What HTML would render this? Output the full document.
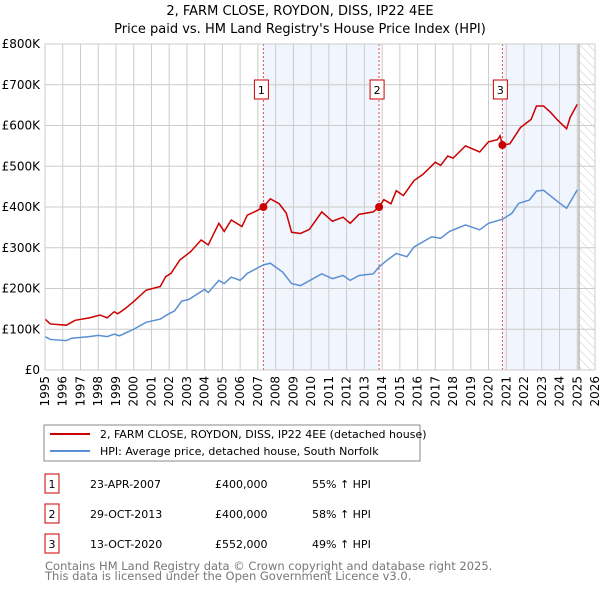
<!DOCTYPE html>
<html><head><meta charset="utf-8"><style>
body{margin:0;background:#fff;font-family:"DejaVu Sans","Liberation Sans",sans-serif;}
svg text{font-family:"DejaVu Sans","Liberation Sans",sans-serif;}
</style></head><body>
<svg id="c" width="600" height="590" xmlns="http://www.w3.org/2000/svg">
<defs><pattern id="hatch" width="6" height="6" patternUnits="userSpaceOnUse" patternTransform="rotate(-45)"><line x1="0" y1="0" x2="0" y2="6" stroke="#ccc" stroke-width="1"/></pattern></defs>
<text x="300" y="15" text-anchor="middle" font-size="13">2, FARM CLOSE, ROYDON, DISS, IP22 4EE</text>
<text x="300" y="33" text-anchor="middle" font-size="13">Price paid vs. HM Land Registry's House Price Index (HPI)</text>
<g id="plot"></g>
<rect x="44" y="425" width="376" height="36" fill="#fff" stroke="#888"/>
<line x1="50" y1="434" x2="90" y2="434" stroke="#cc0000" stroke-width="2"/>
<text x="100" y="438" font-size="11">2, FARM CLOSE, ROYDON, DISS, IP22 4EE (detached house)</text>
<line x1="50" y1="451" x2="90" y2="451" stroke="#5b8fd4" stroke-width="2"/>
<text x="100" y="455" font-size="11">HPI: Average price, detached house, South Norfolk</text>
<g id="table" font-size="11"></g>
<text x="45" y="570" font-size="11.5" fill="#777">Contains HM Land Registry data © Crown copyright and database right 2025.</text>
<text x="45" y="580" font-size="11.5" fill="#777">This data is licensed under the Open Government Licence v3.0.</text>
</svg>
<script>
const redYears=[1995,1995.3,1996.2,1996.7,1997.5,1998.1,1998.5,1998.9,1999.1,1999.5,2000.0,2000.7,2001.5,2001.8,2002.1,2002.6,2003.2,2003.8,2004.2,2004.8,2005.1,2005.5,2006.1,2006.4,2006.9,2007.31,2007.7,2008.2,2008.6,2008.9,2009.4,2009.9,2010.6,2011.2,2011.8,2012.2,2012.7,2013.5,2013.83,2014.1,2014.5,2014.8,2015.2,2015.8,2016.3,2017.0,2017.3,2017.7,2018.0,2018.7,2019.5,2020.0,2020.5,2020.65,2020.78,2021.2,2021.8,2022.4,2022.7,2023.1,2023.5,2023.9,2024.4,2024.6,2025.0];
const redValues=[125,113,110,122,128,135,128,143,138,150,168,196,205,229,237,270,290,319,307,360,340,368,352,380,390,400,420,408,385,338,335,345,388,365,375,360,382,388,400,418,408,440,428,465,480,510,502,525,520,550,535,560,565,575,552,555,595,615,648,648,632,613,592,620,652];
const hpiYears=[1995,1995.3,1996.2,1996.5,1997.5,1998.0,1998.5,1998.9,1999.2,2000.0,2000.7,2001.5,2001.9,2002.3,2002.7,2003.1,2004.0,2004.2,2004.8,2005.1,2005.5,2006.0,2006.4,2007.31,2007.7,2008.4,2008.9,2009.4,2010.6,2011.2,2011.8,2012.2,2012.7,2013.5,2013.83,2014.3,2014.8,2015.4,2015.8,2016.8,2017.3,2017.8,2018.7,2019.5,2020.0,2020.78,2021.3,2021.7,2022.3,2022.7,2023.1,2023.5,2023.9,2024.4,2025.0];
const hpiValues=[82,75,72,78,82,85,82,88,84,100,117,125,136,145,169,173,198,190,220,212,228,220,237,258,262,240,212,207,236,224,232,220,232,236,253,270,286,278,302,327,323,340,356,344,360,370,384,409,417,439,441,427,413,397,442];
const saleYears=[2007.31,2013.83,2020.78];
const saleValues=[400,400,552];
const saleLabels=["1","2","3"];
const saleDates=["23-APR-2007","29-OCT-2013","13-OCT-2020"];
const salePrices=["£400,000","£400,000","£552,000"];
const salePct=["55% ↑ HPI","58% ↑ HPI","49% ↑ HPI"];
const yTicks=[0,100,200,300,400,500,600,700,800];
const yTickLabels=["£0","£100K","£200K","£300K","£400K","£500K","£600K","£700K","£800K"];
const xStart=1995,xEnd=2026,dataEnd=2025.1;
const X0=45,X1=595,Y0=370,Y1=44;
const xs=y=>X0+(y-xStart)/(xEnd-xStart)*(X1-X0);
const ys=v=>Y0-v/800*(Y0-Y1);
const NS="http://www.w3.org/2000/svg";
const g=document.getElementById('plot');
function mk(tag,attrs,parent){const e=document.createElementNS(NS,tag);for(const k in attrs)e.setAttribute(k,attrs[k]);(parent||g).appendChild(e);return e;}
let e;
e=mk('rect',{x:xs(saleYears[0]),y:Y1,width:xs(saleYears[1])-xs(saleYears[0]),height:Y0-Y1,fill:'#eef3fd',opacity:0.8});


e=mk('rect',{x:xs(saleYears[2]),y:Y1,width:xs(dataEnd)-xs(saleYears[2]),height:Y0-Y1,fill:'#eef3fd',opacity:0.8});


e=mk('rect',{x:xs(dataEnd),y:Y1,width:X1-xs(dataEnd),height:Y0-Y1,fill:'url(#hatch)'});


for(let yr=xStart;yr<=xEnd;yr++){
 e=mk('line',{x1:xs(yr),x2:xs(yr),y1:Y1,y2:Y0,stroke:'#ccc','stroke-width':1});
 
 
 e=mk('text',{x:0,y:0,'font-size':12,'text-anchor':'end',transform:`translate(${xs(yr)+4},${Y0+6}) rotate(-90)`});
 e.textContent=String(yr);
 
 
}
yTicks.forEach((v,i)=>{
 e=mk('line',{x1:X0,x2:X1,y1:ys(v),y2:ys(v),stroke:'#ccc','stroke-width':1});
 
 
 e=mk('text',{x:X0-5,y:ys(v)+4,'font-size':12,'text-anchor':'end'});
 e.textContent=yTickLabels[i];
 
 
});
e=mk('line',{x1:xs(dataEnd),x2:xs(dataEnd),y1:Y1,y2:Y0,stroke:'#999','stroke-width':1});


saleYears.forEach((yr,i)=>{
 e=mk('line',{x1:xs(yr),x2:xs(yr),y1:Y1,y2:Y0,stroke:'#e05050','stroke-width':1,'stroke-dasharray':'2,2'});
 
 
 e=mk('rect',{x:xs(yr)-9,y:80,width:14,height:19,fill:'#fff',stroke:'#cc0000'});
 
 
 e=mk('text',{x:xs(yr)-2,y:94,'font-size':11,'text-anchor':'middle'});
 e.textContent=saleLabels[i];
 
 
});
e=mk('polyline',{points:hpiYears.map((y,i)=>xs(y)+','+ys(hpiValues[i])).join(' '),fill:'none',stroke:'#5b8fd4','stroke-width':1.5});


e=mk('polyline',{points:redYears.map((y,i)=>xs(y)+','+ys(redValues[i])).join(' '),fill:'none',stroke:'#cc0000','stroke-width':1.5});


saleYears.forEach((yr,i)=>{
 e=mk('circle',{cx:xs(yr),cy:ys(saleValues[i]),r:4,fill:'#cc0000'});
 
 
});
e=mk('rect',{x:X0,y:Y1,width:X1-X0,height:Y0-Y1,fill:'none',stroke:'#ccc'});


const t=document.getElementById('table');
saleLabels.forEach((l,i)=>{
 const cy=483+i*30;
 e=mk('rect',{x:45,y:cy-9,width:14,height:19,fill:'#fff',stroke:'#cc0000'},t);
 
 
 e=mk('text',{x:52,y:cy+5,'text-anchor':'middle'},t);e.textContent=l;
 
 
 e=mk('text',{x:90,y:cy+5},t);e.textContent=saleDates[i];
 
 
 e=mk('text',{x:215,y:cy+5},t);e.textContent=salePrices[i];
 
 
 e=mk('text',{x:312,y:cy+5},t);e.textContent=salePct[i];
 
 
});
</script>
</body></html>
